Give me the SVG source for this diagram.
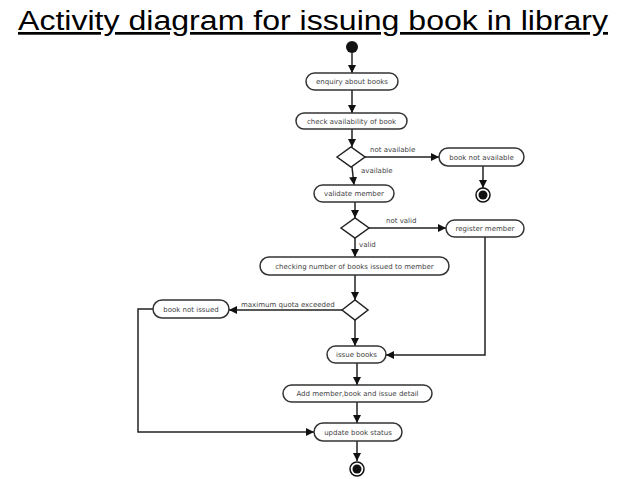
<svg xmlns="http://www.w3.org/2000/svg" width="638" height="479" viewBox="0 0 638 479">
<style>
.n rect{fill:#fff;stroke:#333;stroke-width:1.5}
.n text,.lbl{font-family:"DejaVu Sans",sans-serif;font-size:7px;fill:#444}
.n text{text-anchor:middle}
.d{fill:#fff;stroke:#222;stroke-width:1.5}
#c path{fill:none;stroke:#222;stroke-width:1.5}
</style>
<defs><marker id="a" viewBox="0 0 10 10" refX="10" refY="5" markerWidth="8" markerHeight="8" orient="auto" markerUnits="userSpaceOnUse"><path d="M0,0L10,5L0,10z" fill="#111"/></marker></defs>
<rect width="638" height="479" fill="#fff"/>
<text x="18" y="30" font-family="Liberation Sans,sans-serif" font-size="27" textLength="590" lengthAdjust="spacingAndGlyphs" fill="#000" text-decoration="underline">Activity diagram for issuing book in library</text>
<g id="c">
<path d="M352,53V73" marker-end="url(#a)"/>
<path d="M352,90V113" marker-end="url(#a)"/>
<path d="M352,129V147" marker-end="url(#a)"/>
<path d="M365,157H439" marker-end="url(#a)"/>
<path d="M483,166V188" marker-end="url(#a)"/>
<path d="M352,167L354,185" marker-end="url(#a)"/>
<path d="M355,202V218" marker-end="url(#a)"/>
<path d="M369,228H446" marker-end="url(#a)"/>
<path d="M355,238V257" marker-end="url(#a)"/>
<path d="M355,275V300" marker-end="url(#a)"/>
<path d="M342,310H229" marker-end="url(#a)"/>
<path d="M355,320V346" marker-end="url(#a)"/>
<path d="M485,237V355H386" marker-end="url(#a)"/>
<path d="M357,363V385" marker-end="url(#a)"/>
<path d="M357,402V423" marker-end="url(#a)"/>
<path d="M153,309H138V432H314" marker-end="url(#a)"/>
<path d="M357,441V461" marker-end="url(#a)"/>
</g>
<text class="lbl" x="370" y="152">not available</text>
<text class="lbl" x="361" y="173">available</text>
<text class="lbl" x="386" y="223">not valid</text>
<text class="lbl" x="359" y="247">valid</text>
<text class="lbl" x="241" y="307">maximum quota exceeded</text>
<g id="start"><circle cx="352" cy="47" r="6" fill="#111"/></g>
<g id="n1" class="n"><rect x="306" y="73" width="92" height="17" rx="8.5"/><text x="352" y="84">enquiry about books</text></g>
<g id="n2" class="n"><rect x="296" y="113" width="111" height="16" rx="8"/><text x="351.5" y="123.5">check availability of book</text></g>
<g id="d1"><path class="d" d="M337,157L351,147L365,157L351,167z"/></g>
<g id="n3" class="n"><rect x="439" y="148" width="85" height="18" rx="9"/><text x="481.5" y="159.5">book not available</text></g>
<g id="end1"><circle cx="483" cy="195" r="7" fill="#fff" stroke="#111" stroke-width="1.5"/><circle cx="483" cy="195" r="4.5" fill="#111"/></g>
<g id="n4" class="n"><rect x="314" y="185" width="80" height="17" rx="8.5"/><text x="354" y="196">validate member</text></g>
<g id="d2"><path class="d" d="M341,228L355,218L369,228L355,238z"/></g>
<g id="n5" class="n"><rect x="446" y="220" width="78" height="17" rx="8.5"/><text x="485" y="231">register member</text></g>
<g id="n6" class="n"><rect x="260" y="257" width="189" height="18" rx="9"/><text x="354.5" y="268.5">checking number of books issued to member</text></g>
<g id="d3"><path class="d" d="M342,310L355,300L368,310L355,320z"/></g>
<g id="n7" class="n"><rect x="153" y="300" width="76" height="18" rx="9"/><text x="191" y="311.5">book not issued</text></g>
<g id="n8" class="n"><rect x="327" y="346" width="59" height="17" rx="8.5"/><text x="356.5" y="357">issue books</text></g>
<g id="n9" class="n"><rect x="283" y="385" width="149" height="17" rx="8.5"/><text x="357.5" y="396">Add member,book and issue detail</text></g>
<g id="n10" class="n"><rect x="314" y="423" width="88" height="18" rx="9"/><text x="358" y="434.5">update book status</text></g>
<g id="end2"><circle cx="357" cy="469" r="7" fill="#fff" stroke="#111" stroke-width="1.5"/><circle cx="357" cy="469" r="4.5" fill="#111"/></g>
</svg>
